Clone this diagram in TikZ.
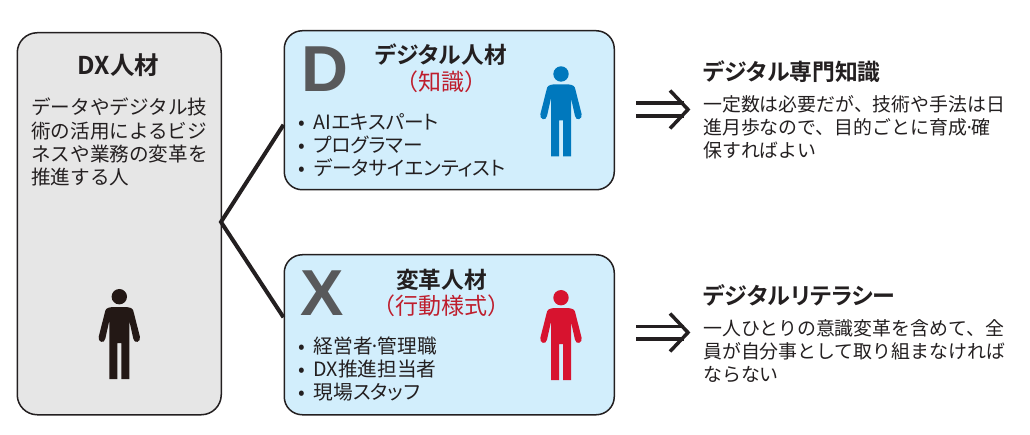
\documentclass[tikz,border=0pt]{standalone}
\usepackage{fontspec}
\setmainfont{Noto Sans CJK JP}[BoldFont={Noto Sans CJK JP Bold}]
\newfontfamily\jpp{Noto Sans CJK JP}[RawFeature=+palt,BoldFont={Noto Sans CJK JP Bold}]
\newfontfamily\bigfont{Liberation Sans}[BoldFont={Liberation Sans Bold}]
\definecolor{ink}{HTML}{231F20}
\definecolor{panelgray}{HTML}{E6E6E6}
\definecolor{panelblue}{HTML}{D2EEFC}
\definecolor{letter}{HTML}{58595B}
\definecolor{accent}{HTML}{BE1E2D}
\definecolor{pblue}{HTML}{0078BD}
\definecolor{pred}{HTML}{D7132F}
\definecolor{pblack}{HTML}{231815}
\tikzset{
  x=1pt,y=-1pt,
  panel/.style={draw=ink,line width=1.5pt,rounded corners=18pt,anchor=north west,inner sep=0pt},
  body/.style={inner sep=0pt,anchor=north west,align=left,text=ink},
  title/.style={inner sep=0pt,anchor=center,text=ink,font=\jpp\bfseries\fontsize{22.7}{26}\selectfont},
  sub/.style={inner sep=0pt,anchor=center,text=accent,font=\fontsize{23}{27}\selectfont},
  biglet/.style={inner sep=0pt,anchor=base,text=letter,font=\bigfont\bfseries\fontsize{65}{65}\selectfont},
  link/.style={draw=ink,line width=4pt},
  implies/.style={draw=ink,line width=3.5pt},
  person/.pic={
    \fill[#1] (0,0) circle[radius=7.7];
    \fill[#1] (-8,10.5) .. controls (-12,11) and (-14,12) .. (-14.5,16)
      -- (-20.6,40) .. controls (-21.8,45.5) and (-15,47.5) .. (-14,42)
      -- (-10,24) -- (-10,82.5) -- (-2,82.5) -- (-2,46.5) -- (2,46.5) -- (2,82.5) -- (10,82.5) -- (10,24)
      -- (14,42) .. controls (15,47.5) and (21.8,45.5) .. (20.6,40)
      -- (14.5,16) .. controls (14,12) and (12,11) .. (8,10.5) -- cycle;
  }
}
\newcommand{\bul}{\makebox[15.5pt][l]{•}}
\newcommand{\ndot}{\hspace{-3pt}·\hspace{-3pt}}
\begin{document}
\begin{tikzpicture}
\useasboundingbox (0,0) rectangle (1030,435);
% panels
\node[panel,fill=panelgray,rounded corners=20pt,minimum width=204pt,minimum height=382pt] (dx) at (16.5,32) {};
\node[panel,fill=panelblue,minimum width=330pt,minimum height=159pt] (d) at (283.5,30) {};
\node[panel,fill=panelblue,minimum width=330pt,minimum height=160pt] (x) at (283.5,254) {};
% connectors
\coordinate (join) at (221,222);
\draw[link] (d.185.4) -- (join) -- (x.174.1);
% left panel
\node[title,font=\bfseries\fontsize{24.5}{28}\selectfont] (dxt) at (118.5,65) {DX人材};
\node[body,font=\fontsize{19.6}{23.3}\selectfont] (dxb) at (31,98) {データやデジタル技\\術の活用によるビジ\\ネスや業務の変革を\\推進する人};
\pic at (119.3,296.7) {person=pblack};
% D panel
\node[biglet] (dl) at (325,92) {D};
\node[title] (dt) at (441,55) {デジタル人材};
\node[sub] (ds) at (441,82) {（知識）};
\node[body,font=\jpp\fontsize{19.7}{23}\selectfont] (dlist) at (298,113) {\bul AIエキスパート\\\bul プログラマー\\\bul データサイエンティスト};
\pic at (561,74) {person=pblue};
% X panel
\node[biglet] (xl) at (322,316) {X};
\node[title] (xt) at (441.5,280) {変革人材};
\node[sub] (xs) at (441,306) {（行動様式）};
\node[body,font=\jpp\fontsize{19.7}{23}\selectfont] (xlist) at (298,337) {\bul 経営者\ndot 管理職\\\bul DX推進担当者\\\bul 現場スタッフ};
\pic at (561,297.7) {person=pred};
% right top
\coordinate (a1s) at (636,103); \coordinate (a1e) at (684,103);
\coordinate (a2s) at (636,116); \coordinate (a2e) at (684,116);
\coordinate (a1t) at (688,109.5); \coordinate (a1u) at (670,90.5); \coordinate (a1l) at (670,128.5);
\draw[implies] (a1s) -- (a1e);
\draw[implies] (a2s) -- (a2e);
\draw[implies] (a1u) -- (a1t) -- (a1l);
\node[title,anchor=west,font=\jpp\bfseries\fontsize{22.8}{26}\selectfont] (rt1) at (703,71.5) {デジタル専門知識};
\node[body,font=\fontsize{18.9}{23}\selectfont] (rb1) at (703,95) {一定数は必要だが、技術や手法は日\\進月歩なので、目的ごとに育成\ndot 確\\保すればよい};
% right bottom
\coordinate (b1s) at (636,326.5); \coordinate (b1e) at (684,326.5);
\coordinate (b2s) at (636,339); \coordinate (b2e) at (684,339);
\coordinate (b1t) at (688,332.5); \coordinate (b1u) at (670,313.5); \coordinate (b1l) at (670,351.5);
\draw[implies] (b1s) -- (b1e);
\draw[implies] (b2s) -- (b2e);
\draw[implies] (b1u) -- (b1t) -- (b1l);
\node[title,anchor=west,font=\jpp\bfseries\fontsize{23}{26}\selectfont] (rt2) at (703,295) {デジタルリテラシー};
\node[body,font=\fontsize{18.9}{23}\selectfont] (rb2) at (703,319) {一人ひとりの意識変革を含めて、全\\員が自分事として取り組まなければ\\ならない};
\end{tikzpicture}
\end{document}
